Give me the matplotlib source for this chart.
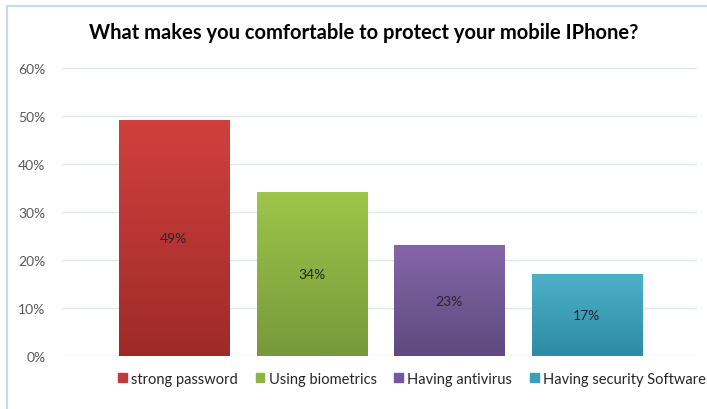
import numpy as np
import matplotlib
matplotlib.use('Agg')
from matplotlib import pyplot
from matplotlib.patches import Rectangle
from matplotlib.colors import LinearSegmentedColormap

title = 'What makes you comfortable to protect your mobile IPhone?'
categories = ['strong password', 'Using biometrics', 'Having antivirus', 'Having security Software']
values = [0.49, 0.34, 0.23, 0.17]
top_colors = ['#D0403D', '#9DC54A', '#8466A8', '#4DB0CB']
bottom_colors = ['#9E2B29', '#78993A', '#5E4A7E', '#2E8BA4']
legend_colors = ['#C0393B', '#8DB543', '#7556A0', '#3A9FBE']
yticks = [0, 0.1, 0.2, 0.3, 0.4, 0.5, 0.6]

pyplot.rcParams['font.family'] = ['Lato', 'DejaVu Sans']

fig = pyplot.figure(figsize=(7.07, 4.10), dpi=100)
# chart frame (light blue border)
fig.add_artist(Rectangle((7/707, -0.1), 1.2, 1 - 7/410 + 0.1, transform=fig.transFigure,
                         fill=False, edgecolor='#C9DAEE', linewidth=1.5))

ax = fig.add_axes([62/707, 1 - 357/410, 635/707, 288/410])
ind = np.arange(len(categories))
bar_width = 0.8

for i, v in enumerate(values):
    cmap = LinearSegmentedColormap.from_list('g', [bottom_colors[i], top_colors[i]])
    grad = np.linspace(0, 1, 100).reshape(-1, 1)
    ax.imshow(grad, cmap=cmap, origin='lower', aspect='auto', zorder=2,
              interpolation='bilinear',
              extent=(ind[i] - bar_width/2, ind[i] + bar_width/2, 0, v))
    ax.text(ind[i], v/2, '{:.0f}%'.format(v*100), ha='center', va='center',
            fontsize=10, color='#262626', zorder=4)

ax.set_xlim(-0.813, 3.80)
ax.set_ylim(0, 0.6)
ax.set_yticks(yticks)
ax.set_yticklabels(['{:.0f}%'.format(t*100) for t in yticks], fontsize=10, color='#595959')
ax.set_xticks([])
ax.tick_params(axis='y', length=0, pad=12)
ax.grid(axis='y', color='#DCE6F2', linewidth=1, zorder=0)
ax.set_axisbelow(True)
for s in ax.spines.values():
    s.set_visible(False)

fig.text(364/707, 1 - 33/410, title, ha='center', va='center', fontsize=14.5,
         fontweight='bold', color='#000000')

handles = [Rectangle((0, 0), 1, 1, color=c) for c in legend_colors]
fig.legend(handles, categories, loc='center', bbox_to_anchor=(412/707, 1 - 380/410),
           ncol=4, frameon=False, fontsize=10.5, handlelength=0.6, handleheight=0.6,
           handletextpad=0.3, columnspacing=1.2, labelcolor='#262626')

pyplot.savefig('out.png', format='png', dpi=100)
